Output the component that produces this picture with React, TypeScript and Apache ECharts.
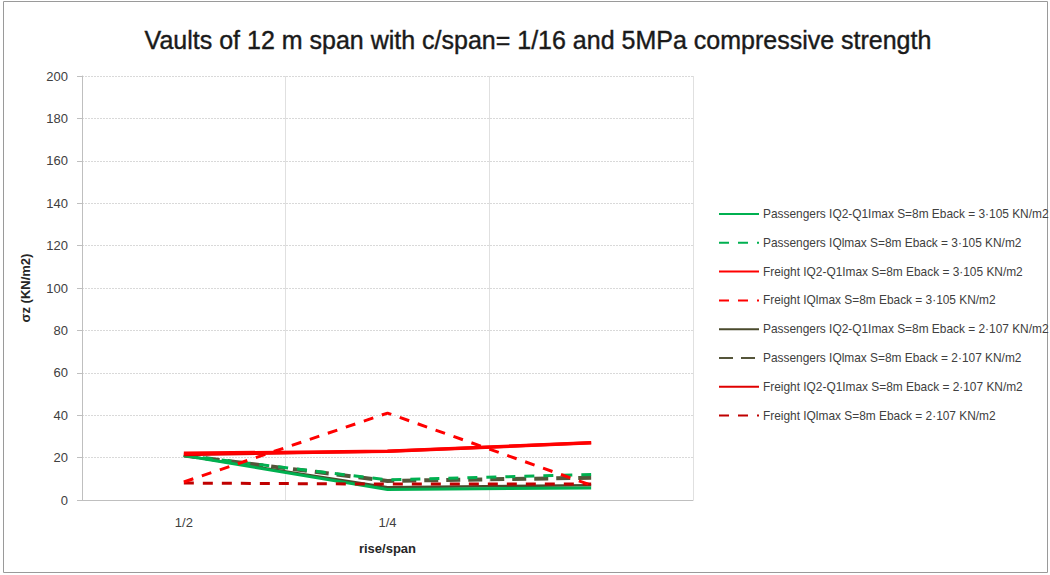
import React, { useEffect, useRef } from "react";
import * as echarts from "echarts";

const categories = ["1/2", "1/4", ""];
const seriesNames = [
  "Passengers IQ2-Q1Imax S=8m Eback = 3·105 KN/m2",
  "Passengers IQlmax S=8m Eback = 3·105 KN/m2",
  "Freight IQ2-Q1Imax S=8m Eback = 3·105 KN/m2",
  "Freight IQlmax S=8m Eback = 3·105 KN/m2",
  "Passengers IQ2-Q1Imax S=8m Eback = 2·107 KN/m2",
  "Passengers IQlmax S=8m Eback = 2·107 KN/m2",
  "Freight IQ2-Q1Imax S=8m Eback = 2·107 KN/m2",
  "Freight IQlmax S=8m Eback = 2·107 KN/m2",
];
const passQ2Q1_3e5 = [21, 5, 5.7];
const passQmax_3e5 = [21, 9.5, 12];
const freightQ2Q1_3e5 = [22, 23, 27];
const freightQmax_3e5 = [8.5, 41, 7];
const passQ2Q1_2e7 = [21, 6, 7];
const passQmax_2e7 = [21, 9, 10.5];
const freightQ2Q1_2e7 = [21.3, 23, 27];
const freightQmax_2e7 = [8, 7.5, 7.5];

const yTicks = { min: 0, max: 200, interval: 20 };

const FONT = "Liberation Sans, Arial, sans-serif";

export default function App() {
  const ref = useRef<HTMLDivElement>(null);
  useEffect(() => {
    if (!ref.current) return;
    const chart = echarts.init(ref.current, undefined, { renderer: "svg" });
    const data = [
      passQ2Q1_3e5,
      passQmax_3e5,
      freightQ2Q1_3e5,
      freightQmax_3e5,
      passQ2Q1_2e7,
      passQmax_2e7,
      freightQ2Q1_2e7,
      freightQmax_2e7,
    ];
    const styles = [
      { color: "#00B050", width: 3, type: "solid" as any },
      { color: "#00B050", width: 3, type: [10, 9] as any },
      { color: "#FF0000", width: 3.5, type: "solid" as any },
      { color: "#FF0000", width: 3, type: [10, 9] as any },
      { color: "#4a4a2c", width: 2.5, type: "solid" as any },
      { color: "#55553a", width: 4, type: [14, 8] as any },
      { color: "#E00000", width: 3, type: "solid" as any },
      { color: "#C00000", width: 3, type: [10, 9] as any },
    ];
    const order = [4, 5, 1, 0, 7, 3, 6, 2];
    const series = seriesNames.map((name, i) => ({
      name,
      type: "line",
      data: data[i],
      symbol: "none",
      showSymbol: false,
      z: 2 + order.indexOf(i),
      lineStyle: styles[i],
      itemStyle: { color: styles[i].color },
    }));
    chart.setOption({
      animation: false,
      backgroundColor: "#ffffff",
      title: {
        text: "Vaults of 12 m span with c/span= 1/16 and 5MPa compressive strength",
        left: 533,
        top: 22,
        textAlign: "center",
        textStyle: {
          fontFamily: FONT,
          fontSize: 25,
          fontWeight: "normal",
          color: "#1a1a1a",
          textBorderColor: "#1a1a1a",
          textBorderWidth: 0.4,
        },
      },
      graphic: [
        {
          type: "rect",
          shape: { x: 3.5, y: 1.5, width: 1044, height: 571 },
          style: { fill: "none", stroke: "#9a9a9a", lineWidth: 1 },
          silent: true,
        },
      ],
      legend: {
        orient: "vertical",
        left: 713,
        top: 203,
        itemWidth: 40,
        itemHeight: 10,
        itemGap: 16.8,
        itemStyle: { opacity: 0 },
        textStyle: {
          fontFamily: FONT,
          fontSize: 11.9,
          color: "#404040",
          padding: [0, 0, 0, -1],
        },
        data: seriesNames,
      },
      grid: { left: 82, top: 76, right: 357, bottom: 75, containLabel: false },
      xAxis: {
        type: "category",
        data: categories,
        boundaryGap: true,
        name: "rise/span",
        nameLocation: "middle",
        nameGap: 42,
        nameTextStyle: {
          fontFamily: FONT,
          fontSize: 13,
          fontWeight: "bold",
          color: "#262626",
        },
        axisLine: { lineStyle: { color: "#bfbfbf", width: 1 } },
        axisTick: { show: false },
        axisLabel: {
          margin: 16,
          fontFamily: FONT,
          fontSize: 13,
          color: "#404040",
        },
        splitLine: { show: true, lineStyle: { color: "#e0e0e0", width: 1 } },
      },
      yAxis: {
        type: "value",
        min: yTicks.min,
        max: yTicks.max,
        interval: yTicks.interval,
        name: "σz (KN/m2)",
        nameLocation: "middle",
        nameGap: 50,
        nameRotate: 90,
        nameTextStyle: {
          fontFamily: FONT,
          fontSize: 13,
          fontWeight: "bold",
          color: "#262626",
        },
        axisLine: { show: true, lineStyle: { color: "#bfbfbf", width: 1 } },
        axisTick: { show: true, length: 5, lineStyle: { color: "#bfbfbf" } },
        axisLabel: {
          margin: 14,
          fontFamily: FONT,
          fontSize: 13,
          color: "#404040",
        },
        splitLine: { show: true, lineStyle: { color: "#d9d9d9", width: 1, type: [2, 1] } },
      },
      series,
    });
    return () => chart.dispose();
  }, []);
  return (
    <div
      ref={ref}
      style={{ position: "fixed", left: 0, top: 0, width: 1050, height: 575 }}
    />
  );
}
